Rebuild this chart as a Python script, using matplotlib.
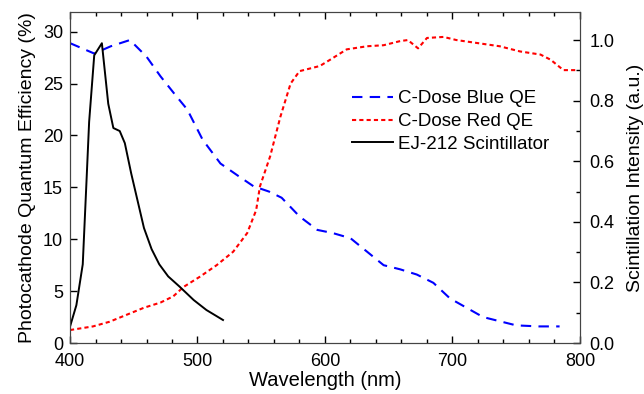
import numpy as np
import matplotlib
matplotlib.use('Agg')
import matplotlib.pyplot as plt
from matplotlib.ticker import MultipleLocator

plt.rcParams['font.family'] = ['Liberation Sans', 'DejaVu Sans']

# C-Dose Blue QE (%)
blue_wl = [400, 419, 432, 447, 460, 471, 482, 492, 504, 518, 532, 544, 556, 566, 580, 594,
           606, 620, 633, 646, 659, 672, 685, 698, 711, 724, 737, 750, 768, 784]
blue_qe = [28.9, 27.9, 28.6, 29.2, 27.6, 25.7, 24.0, 22.5, 19.6, 17.3, 16.1, 15.1, 14.6, 14.0,
           12.2, 10.9, 10.6, 10.1, 8.8, 7.5, 7.1, 6.6, 5.8, 4.3, 3.4, 2.5, 2.1, 1.7, 1.6, 1.6]

# C-Dose Red QE (%)
red_wl = [400, 418, 431, 444, 458, 471, 481, 489, 502, 515, 528, 539, 546, 549, 557, 565,
          573, 580, 596, 604, 617, 633, 646, 659, 665, 673, 680, 693, 703, 720, 737, 753,
          769, 777, 787, 798]
red_qe = [1.25, 1.6, 2.05, 2.7, 3.4, 3.9, 4.5, 5.4, 6.4, 7.5, 8.8, 10.6, 12.8, 15.1, 18.0, 21.8,
          25.0, 26.2, 26.7, 27.3, 28.3, 28.6, 28.7, 29.1, 29.2, 28.4, 29.4, 29.5, 29.2, 28.9,
          28.6, 28.1, 27.8, 27.3, 26.3, 26.3]

# EJ-212 scintillator emission (a.u.)
ej_wl = [400, 405, 410, 413, 415, 419, 425, 430, 434, 439, 443, 448, 453, 458, 464, 470,
         477, 486, 497, 507, 520]
ej_int = [0.054, 0.125, 0.26, 0.54, 0.73, 0.95, 0.99, 0.79, 0.71, 0.70, 0.66, 0.56, 0.47,
          0.38, 0.31, 0.26, 0.22, 0.186, 0.142, 0.109, 0.076]

fig = plt.figure(figsize=(6.44, 3.94), dpi=100)
ax = fig.add_axes([0.1087, 0.1294, 0.7919, 0.8401])
ax2 = ax.twinx()

l1, = ax.plot(blue_wl, blue_qe, color='blue', lw=1.5, dashes=(5, 3.5), label='C-Dose Blue QE')
l2, = ax.plot(red_wl, red_qe, color='red', lw=1.5, dashes=(2, 1.5), label='C-Dose Red QE')
l3, = ax2.plot(ej_wl, ej_int, color='black', lw=1.4, label='EJ-212 Scintillator')

ax.set_xlim(400, 800)
ax.set_ylim(0, 31.9)
ax2.set_ylim(0, 1.093)

ax.xaxis.set_major_locator(MultipleLocator(100))
ax.xaxis.set_minor_locator(MultipleLocator(20))
ax.yaxis.set_major_locator(MultipleLocator(5))
ax2.yaxis.set_major_locator(MultipleLocator(0.2))
ax2.yaxis.set_minor_locator(MultipleLocator(0.1))
ax2.yaxis.set_major_formatter(plt.FormatStrFormatter('%.1f'))

ax.tick_params(axis='both', which='both', direction='in', top=True, labelsize=13)
ax.tick_params(which='major', length=5, width=1)
ax.tick_params(which='minor', length=3, width=1)
ax.tick_params(axis='x', which='major', pad=7)
ax.tick_params(axis='y', which='major', pad=5)
ax2.tick_params(axis='y', which='both', direction='in', labelsize=13)
ax2.tick_params(which='major', length=5, width=1, pad=7)
ax2.tick_params(which='minor', length=3, width=1)

for sp in ax.spines.values():
    sp.set_color('#444444')
for sp in ax2.spines.values():
    sp.set_color('#444444')

ax.set_xlabel('Wavelength (nm)', fontsize=14.5, labelpad=1)
ax.set_ylabel('Photocathode Quantum Efficiency (%)', fontsize=14, labelpad=5)
ax2.set_ylabel('Scintillation Intensity (a.u.)', fontsize=14, labelpad=9)

ax2.legend([l1, l2, l3], [l.get_label() for l in [l1, l2, l3]], loc='center left',
           bbox_to_anchor=(0.552, 0.669), frameon=False, fontsize=13.5, borderpad=0,
           borderaxespad=0, handlelength=2.2, handletextpad=0.3, labelspacing=0.3)

fig.savefig('out.png', dpi=100)
